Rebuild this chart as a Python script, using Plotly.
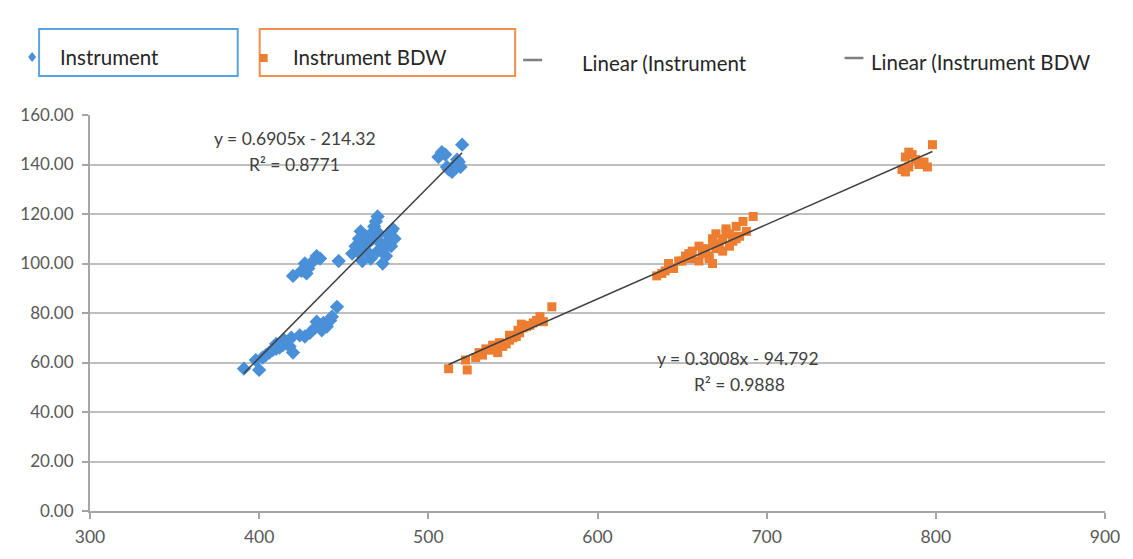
import plotly.graph_objects as go

# Paired measurements: same reference value (y) measured against two instruments
y_vals = [57.5, 57, 61, 62, 63, 64, 65, 65.5, 66, 67, 68, 66.5, 64, 67.5, 69, 70,
          71, 70.5, 72, 74, 75, 76, 74.5, 77, 78.5, 82.5, 76.5, 73, 75.5,
          95, 97, 100, 98, 101, 103, 102, 96,
          101, 104, 107, 110, 113, 106, 108, 104, 102, 110, 115, 117, 119, 112, 108,
          100, 106, 103, 109, 111, 113, 114, 110, 111, 105, 101, 105, 112, 107,
          143, 145, 144, 138, 137, 140, 141, 139, 148, 142, 139]
x_instrument = [391, 400, 398, 402, 404, 406, 408, 410, 412, 414, 416, 418, 420, 410, 415, 419,
                424, 427, 430, 433, 436, 438, 440, 442, 443, 446, 434, 437, 439,
                420, 425, 427, 429, 432, 434, 436, 428,
                447, 455, 457, 459, 460, 462, 464, 465, 466, 467, 468, 469, 470, 471, 472,
                473, 474, 475, 476, 477, 478, 479, 480, 463, 458, 461, 470, 466, 478,
                506, 508, 510, 512, 514, 516, 518, 519, 520, 517, 511]
x_bdw = [512, 523, 522, 528, 532, 530, 536, 534, 540, 538, 542, 544, 541, 546, 548, 550,
         548, 552, 554, 556, 560, 562, 558, 564, 566, 573, 568, 553, 555,
         635, 640, 642, 645, 648, 652, 655, 638,
         650, 654, 660, 668, 676, 664, 668, 662, 666, 674, 682, 686, 692, 678, 672,
         668, 670, 666, 680, 684, 688, 676, 682, 680, 656, 660, 674, 670, 678,
         782, 784, 786, 780, 782, 790, 793, 795, 798, 788, 784]

# Trendline coefficients (as printed on the chart)
slope_inst, icpt_inst, r2_inst = 0.6905, -214.32, 0.8771
slope_bdw, icpt_bdw, r2_bdw = 0.3008, -94.792, 0.9888

x_ticks = [300, 400, 500, 600, 700, 800, 900]
y_ticks = [0, 20, 40, 60, 80, 100, 120, 140, 160]

BLUE = "#4A90D9"
ORANGE = "#ED7D31"
LINE = "#404040"
TXT = "#404040"
FONT = "Lato, 'Open Sans', sans-serif"

fig = go.Figure()
fig.add_trace(go.Scatter(x=x_instrument, y=y_vals, mode="markers", name="Instrument",
                         marker=dict(symbol="diamond", size=11, color=BLUE)))
fig.add_trace(go.Scatter(x=x_bdw, y=y_vals, mode="markers", name="Instrument BDW",
                         marker=dict(symbol="square", size=9, color=ORANGE)))

def trend(xs, m, b):
    xr = [min(xs), max(xs)]
    return xr, [m * v + b for v in xr]

tx, ty = trend(x_instrument, slope_inst, icpt_inst)
fig.add_trace(go.Scatter(x=tx, y=ty, mode="lines", name="Linear (Instrument",
                         line=dict(color=LINE, width=1.5)))
tx, ty = trend(x_bdw, slope_bdw, icpt_bdw)
fig.add_trace(go.Scatter(x=tx, y=ty, mode="lines", name="Linear (Instrument BDW",
                         line=dict(color=LINE, width=1.5)))

ann_font = dict(family=FONT, size=17.5, color=TXT)
fig.add_annotation(x=421, y=150.5, text=f"y = {slope_inst}x - {abs(icpt_inst)}",
                   showarrow=False, font=ann_font)
fig.add_annotation(x=421, y=140, text=f"R² = {r2_inst}", showarrow=False, font=ann_font)
fig.add_annotation(x=683, y=61.8, text=f"y = {slope_bdw}x - {abs(icpt_bdw)}",
                   showarrow=False, font=ann_font)
fig.add_annotation(x=684, y=51.3, text=f"R² = {r2_bdw}", showarrow=False, font=ann_font)

# Page has an 8px body margin: work in screen pixels, then offset
OFF = 8
SW, SH = 1133, 559
W, H = SW - OFF, SH - OFF
L, R, T, B = 88 - OFF, 28, 115 - OFF, 48
pw, ph = W - L - R, H - T - B
def px(x):
    return (x - OFF - L) / pw
def py(y):
    return (H - B - (y - OFF)) / ph

shapes = []
shapes.append(dict(type="rect", xref="paper", yref="paper", x0=px(37), x1=px(236),
                   y0=py(76), y1=py(29), line=dict(color="#5BA3E0", width=2)))
shapes.append(dict(type="rect", xref="paper", yref="paper", x0=px(258), x1=px(514),
                   y0=py(76), y1=py(29), line=dict(color="#F0904A", width=2)))
cx, cy = 30, 57
shapes.append(dict(type="path", xref="paper", yref="paper",
                   path=f"M {px(cx-4)} {py(cy)} L {px(cx)} {py(cy-5)} L {px(cx+4)} {py(cy)} L {px(cx)} {py(cy+5)} Z",
                   fillcolor=BLUE, line=dict(width=0)))
shapes.append(dict(type="rect", xref="paper", yref="paper", x0=px(258), x1=px(266),
                   y0=py(62), y1=py(54), fillcolor=ORANGE, line=dict(width=0)))
shapes.append(dict(type="line", xref="paper", yref="paper", x0=px(522), x1=px(541),
                   y0=py(60), y1=py(60), line=dict(color="#7F7F7F", width=2.5)))
shapes.append(dict(type="line", xref="paper", yref="paper", x0=px(844), x1=px(863),
                   y0=py(58), y1=py(58), line=dict(color="#7F7F7F", width=2.5)))
fig.update_layout(shapes=shapes)

leg_font = dict(family=FONT, size=20.5, color="#262626")
for name, xpos, ypos in [("Instrument", 56, 57), ("Instrument BDW", 289, 57),
                         ("Linear (Instrument", 579, 63), ("Linear (Instrument BDW", 869, 62)]:
    fig.add_annotation(xref="paper", yref="paper", x=px(xpos), y=py(ypos), text=name,
                       showarrow=False, xanchor="left", yanchor="middle", font=leg_font)

fig.update_layout(
    width=W, height=H,
    margin=dict(l=L, r=R, t=T, b=B),
    paper_bgcolor="white", plot_bgcolor="white",
    showlegend=False,
    font=dict(family=FONT, size=16, color="#595959"),
)
fig.update_xaxes(range=[300, 900], tickvals=x_ticks, ticktext=[str(v) for v in x_ticks],
                 showgrid=False, zeroline=False, showline=True, linecolor="#A6A6A6", linewidth=2,
                 ticks="outside", ticklen=6, tickcolor="#A6A6A6", tickwidth=1.5,
                 ticklabelstandoff=3,
                 tickfont=dict(family=FONT, size=17.5, color="#595959"))
fig.update_yaxes(range=[0, 160], tickvals=y_ticks, ticktext=[f"{v:.2f}" for v in y_ticks],
                 showgrid=True, gridcolor="#BFBFBF", gridwidth=2, zeroline=False,
                 showline=True, linecolor="#A6A6A6", linewidth=2,
                 ticks="outside", ticklen=6, tickcolor="#A6A6A6", tickwidth=1.5,
                 ticklabelstandoff=5,
                 tickfont=dict(family=FONT, size=17, color="#595959"))

fig.write_html("out.html")
